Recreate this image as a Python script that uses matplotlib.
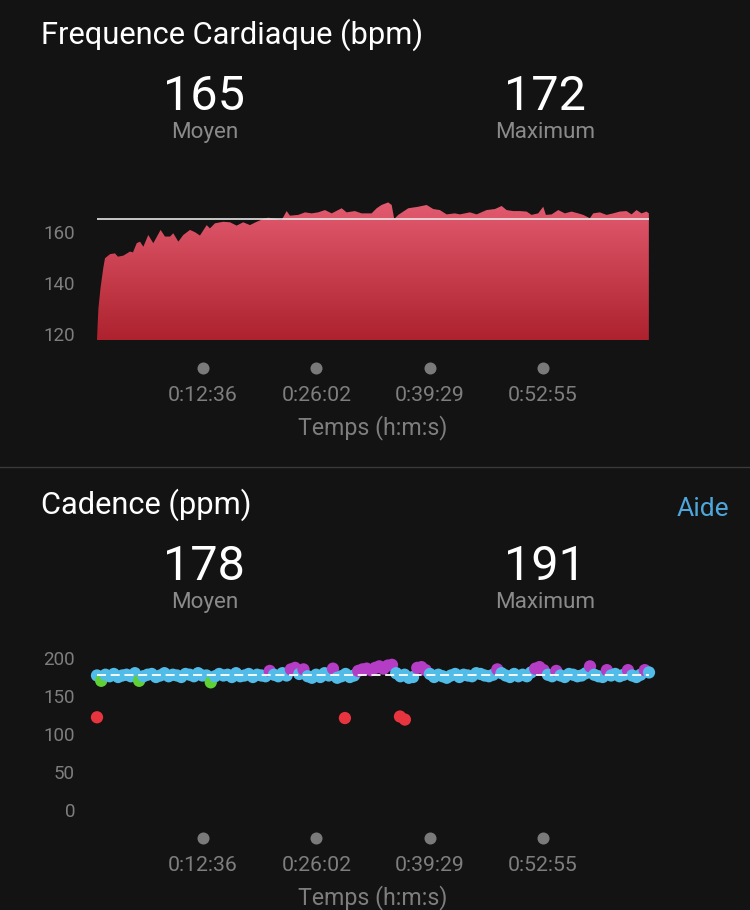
import numpy as np
import matplotlib
matplotlib.use("Agg")
import matplotlib.pyplot as plt
from matplotlib.colors import LinearSegmentedColormap
from matplotlib.transforms import blended_transform_factory
from matplotlib.lines import Line2D

plt.rcParams['font.family'] = ['Roboto', 'DejaVu Sans']

# ---------------- data ----------------
hr_time_s = [0, 10, 25, 45, 57, 93, 128, 149, 187, 235, 256, 283, 306, 330, 365, 401,
             453, 484, 520, 543, 579, 614, 662, 698, 733, 781, 804, 840, 899, 947, 994,
             1041, 1089, 1137, 1184, 1219, 1267, 1315, 1350, 1374, 1433, 1481, 1528, 1575,
             1623, 1671, 1742, 1777, 1836, 1884, 1955, 1991, 2026, 2073, 2098, 2116, 2145,
             2216, 2287, 2347, 2394, 2441, 2489, 2548, 2584, 2655, 2703, 2774, 2833, 2881,
             2916, 2963, 3011, 3059, 3094, 3141, 3177, 3196, 3237, 3284, 3331, 3379, 3426,
             3462, 3509, 3533, 3580, 3628, 3675, 3722, 3770, 3806, 3841, 3877, 3912, 3929]
hr_bpm = [118, 130, 138, 146, 149.7, 151.3, 151.6, 150.3, 150.7, 152.3, 152.0, 155.6, 156.2,
          154.2, 158.8, 155.6, 160.8, 158.2, 158.2, 159.5, 156.2, 158.8, 160.8, 159.9, 158.6,
          162.7, 161.4, 163.4, 164.0, 163.8, 162.5, 163.8, 162.7, 164.0, 165.1, 165.6, 165.2,
          164.7, 168.2, 166.4, 166.7, 167.7, 167.3, 167.7, 168.6, 167.3, 169.3, 167.7, 168.2,
          167.3, 167.3, 169.3, 170.6, 171.6, 170.6, 165.1, 166.7, 169.3, 169.9, 170.6, 169.0,
          168.6, 166.9, 167.3, 166.9, 167.7, 166.9, 168.6, 169.0, 170.2, 168.6, 168.2, 168.2,
          168.0, 166.7, 167.3, 169.9, 166.7, 166.9, 168.6, 167.3, 168.0, 167.3, 166.7, 165.4,
          167.3, 167.7, 166.7, 167.3, 168.0, 168.2, 166.9, 168.6, 167.3, 168.0, 167.3]
hr_avg = 165
hr_max = 172

cad_step_s = 30
cad_spm = [177, 170, 178, 176, 179, 175, 177, 178, 176, 180, 170,
           176, 178, 179, 175, 177, 180, 176, 178, 177, 175, 179, 178, 176, 180, 177,
           177, 168, 176, 179, 177,
           178, 175, 180, 176, 177, 179, 175, 178, 177, 176,
           183, 178, 176, 180, 177,
           185, 187, 179, 185, 176,
           174, 178, 175, 180, 177,
           186, 174, 176, 179, 175,
           177, 183, 185, 186, 184,
           187, 189, 186, 190, 191,
           180, 176, 178, 174, 175,
           187, 188, 184, 179, 175,
           178, 176, 174, 177, 179,
           175, 178, 177, 176, 180,
           179, 177, 176, 178, 185,
           180, 177, 175, 179, 176,
           178, 176, 181, 186, 188,
           184, 178, 176, 183, 177,
           175, 179, 178, 176, 177,
           180, 189, 178, 176, 175,
           184, 177, 179, 176, 178,
           184, 177, 175, 178, 184, 181]
cad_outlier_time_s = [0, 1765, 2157, 2192]
cad_outlier_spm = [122, 121, 123, 119]
cad_avg = 178
cad_max = 191

tick_seconds = [756, 1562, 2369, 3175]
tick_labels = ['0:12:36', '0:26:02', '0:39:29', '0:52:55']
hr_yticks = [120, 140, 160]
cad_yticks = [0, 50, 100, 150, 200]

# ---------------- style ----------------
BG = '#131313'
GREY_LBL = '#8a8a8a'
GREY_TICK = '#7e7e7e'
DOT = '#7a7a7a'
HR_TOP = '#e35b70'
HR_BOT = '#ad222d'
C_PURPLE = '#b53cc4'
C_BLUE = '#52bce9'
C_GREEN = '#5fd035'
C_ORANGE = '#f08c2a'
C_RED = '#e8343f'

W, H = 750, 910
fig = plt.figure(figsize=(W / 100, H / 100), dpi=100, facecolor=BG)


def rect(x0, y0, x1, y1):
    return [x0 / W, 1 - y1 / H, (x1 - x0) / W, (y1 - y0) / H]


def fy(y):
    return 1 - y / H


XMAX = 3930


def header(y_off, title, avg, mx, aide=False):
    fig.text(41 / W, fy(43.5 + y_off), title, ha='left', va='baseline',
             color='white', fontsize=22.2)
    fig.text(204 / W, fy(109.5 + y_off), str(avg), ha='center', va='baseline',
             color='white', fontsize=35)
    fig.text(545 / W, fy(109.5 + y_off), str(mx), ha='center', va='baseline',
             color='white', fontsize=35)
    fig.text(205 / W, fy(138.3 + y_off), 'Moyen', ha='center', va='baseline',
             color=GREY_LBL, fontsize=16.2)
    fig.text(545 / W, fy(138.3 + y_off), 'Maximum', ha='center', va='baseline',
             color=GREY_LBL, fontsize=16.2)
    if aide:
        fig.text(729 / W, fy(516), 'Aide', ha='right', va='baseline',
                 color='#4ea6dc', fontsize=19)


def time_axis(ax, y_off):
    trans = blended_transform_factory(ax.transData, fig.transFigure)
    ax.scatter(tick_seconds, [fy(368 + y_off)] * len(tick_seconds), s=75, color=DOT,
               transform=trans, clip_on=False, linewidths=0)
    for t, lab in zip(tick_seconds, tick_labels):
        ax.text(t, fy(401 + y_off), lab, transform=trans, ha='center', va='baseline',
                color=GREY_TICK, fontsize=15.3)
    fig.text(373 / W, fy(434.5 + y_off), 'Temps (h:m:s)', ha='center', va='baseline',
             color=GREY_TICK, fontsize=16.7)


def style_axes(ax, yticks):
    ax.set_facecolor('none')
    for s in ax.spines.values():
        s.set_visible(False)
    ax.set_xticks([])
    ax.set_yticks(yticks)
    ax.tick_params(axis='y', length=0, pad=15.8, labelcolor=GREY_TICK, labelsize=13.5)


# ---------------- heart rate ----------------
header(0, 'Frequence Cardiaque (bpm)', hr_avg, hr_max)
ax1 = fig.add_axes(rect(97, 193.75, 649, 340))
style_axes(ax1, hr_yticks)
y_bottom = 117.6
poly = ax1.fill_between(hr_time_s, hr_bpm, y_bottom, facecolor='none', edgecolor='none')
grad = np.linspace(0, 1, 256).reshape(-1, 1)
cmap = LinearSegmentedColormap.from_list('hr', [HR_BOT, HR_TOP])
im = ax1.imshow(grad, extent=[0, XMAX, y_bottom, max(hr_bpm)], origin='lower',
                aspect='auto', cmap=cmap, zorder=1, interpolation='bilinear')
im.set_clip_path(poly.get_paths()[0], transform=ax1.transData)
ax1.axhline(hr_avg, color='#e6e6e6', lw=1.2, zorder=3)
ax1.set_xlim(0, XMAX)
ax1.set_ylim(y_bottom, 175)
time_axis(ax1, 0)

# separator
fig.add_artist(Line2D([0, 1], [fy(467)] * 2, transform=fig.transFigure,
                      color='#3a3a3a', lw=1))

# ---------------- cadence ----------------
header(470, 'Cadence (ppm)', cad_avg, cad_max, aide=True)
ax2 = fig.add_axes(rect(97, 646.6, 649, 817.6))
style_axes(ax2, cad_yticks)


def cad_color(v):
    if v >= 183:
        return C_PURPLE
    if v >= 174:
        return C_BLUE
    if v >= 164:
        return C_GREEN
    if v >= 153:
        return C_ORANGE
    return C_RED


cad_time = list(np.arange(len(cad_spm)) * cad_step_s) + cad_outlier_time_s
cad_vals = cad_spm + cad_outlier_spm
ax2.scatter(cad_time, cad_vals, s=78, c=[cad_color(v) for v in cad_vals],
            linewidths=0, zorder=2, clip_on=False)
ax2.axhline(cad_avg, color='white', lw=1.3, dashes=(5, 2.6), zorder=3)
ax2.set_xlim(0, XMAX)
ax2.set_ylim(-10, 215)
time_axis(ax2, 470)

fig.savefig('out.png', dpi=100, facecolor=BG)
